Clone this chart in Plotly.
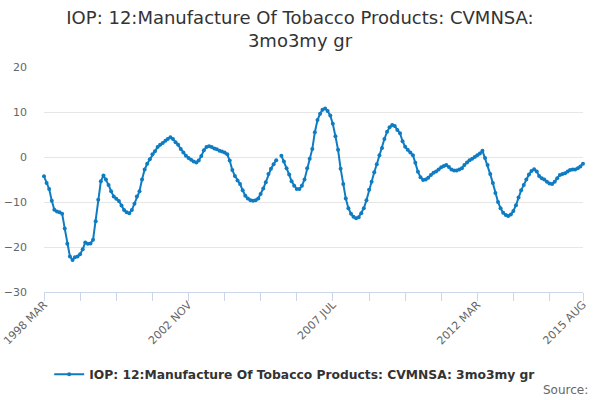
import pandas as pd
import plotly.graph_objects as go

# Monthly series, 1998 MAR .. 2015 AUG (one month missing in 2005)
start_month = "1998-03-01"
growth = [
    -4.3, -5.8, -7.1, -9.7, -11.7, -12.1, -12.3, -12.6, -15.9, -19.3,
    -22.1, -22.9, -22.3, -22.1, -21.6, -20.5, -19.0, -19.3, -19.2, -18.4,
    -14.3, -9.5, -5.4, -4.1, -5.0, -6.2, -7.6, -8.8, -9.3, -9.8,
    -10.8, -11.8, -12.3, -12.5, -11.8, -10.4, -8.8, -7.6, -5.0, -2.8,
    -1.5, -0.5, 0.6, 1.3, 2.2, 2.7, 3.1, 3.6, 4.0, 4.4,
    4.0, 3.3, 2.7, 1.8, 1.0, 0.3, -0.2, -0.6, -1.0, -1.2,
    -0.8, 0.2, 1.5, 2.2, 2.4, 2.2, 1.9, 1.7, 1.4, 1.2,
    1.0, 0.6, -0.8, -2.9, -4.2, -5.2, -6.0, -7.4, -8.6, -9.2,
    -9.6, -9.7, -9.6, -9.2, -8.2, -7.0, -5.6, -3.8, -2.6, -1.6,
    -0.7, None, 0.3, -1.0, -2.5, -3.9, -5.4, -6.4, -7.1, -7.1,
    -6.4, -5.0, -2.5, -0.4, 1.8, 5.5, 8.2, 9.6, 10.5, 10.8,
    10.2, 9.2, 7.4, 4.6, 1.6, -2.6, -6.0, -9.2, -11.4, -12.6,
    -13.3, -13.6, -13.4, -12.5, -11.4, -9.6, -7.3, -5.5, -3.4, -1.6,
    0.4, 2.0, 4.0, 5.6, 6.6, 7.1, 6.9, 6.0, 5.3, 3.5,
    2.3, 1.6, 1.0, 0.4, -1.3, -3.3, -4.5, -5.1, -5.0, -4.6,
    -4.0, -3.5, -3.2, -2.8, -2.3, -2.0, -1.8, -2.2, -2.8, -3.0,
    -3.0, -2.8, -2.5, -1.8, -1.2, -0.7, -0.4, 0.0, 0.4, 0.8,
    1.4, -0.2, -1.8, -3.8, -5.8, -8.0, -10.0, -11.4, -12.4, -12.9,
    -13.1, -12.8, -12.0, -10.7, -9.0, -7.4, -6.2, -5.0, -3.9, -3.1,
    -2.7, -3.2, -4.2, -4.7, -5.0, -5.5, -5.9, -6.0, -5.5, -4.7,
    -4.0, -3.8, -3.6, -3.2, -2.9, -2.8, -2.8, -2.5, -2.1, -1.5,
]
# tick every 14 months, only some of them labelled
tick_index = [0, 14, 28, 42, 56, 70, 84, 98, 112, 126, 140, 154, 168, 182, 196, 209]
tick_labels = {0: "1998 MAR", 56: "2002 NOV", 112: "2007 JUL", 168: "2012 MAR", 209: "2015 AUG"}
y_ticks = [-30, -20, -10, 0, 10, 20]

series_name = "IOP: 12:Manufacture Of Tobacco Products: CVMNSA: 3mo3my gr"

months = pd.date_range(start_month, periods=len(growth), freq="MS")

fig = go.Figure()
fig.add_trace(go.Scatter(
    x=months, y=growth,
    mode="lines+markers",
    name="<b>" + series_name + "</b>",
    line=dict(color="#0f7cc2", width=2),
    marker=dict(color="#0f7cc2", size=4),
    cliponaxis=False,
))

fig.update_layout(
    width=600, height=400,
    margin=dict(l=44, r=17, t=67, b=108),
    paper_bgcolor="white", plot_bgcolor="white",
    font=dict(family="DejaVu Sans", color="#666666", size=11),
    title=dict(
        text="IOP: 12:Manufacture Of Tobacco Products: CVMNSA:<br>3mo3my gr",
        x=0.5, xanchor="center", y=0.94, yanchor="middle",
        font=dict(size=18, color="#333333"),
        automargin=False,
    ),
    showlegend=True,
    legend=dict(
        orientation="h", x=0.466, xanchor="center", y=-0.365, yanchor="middle",
        font=dict(size=12.3, color="#333333"),
        itemwidth=30,
    ),
)

fig.update_xaxes(
    range=[months[0], months[-1]],
    tickvals=[months[i] for i in tick_index],
    ticktext=[tick_labels.get(i, "") for i in tick_index],
    tickangle=-45,
    ticks="outside", ticklen=8, tickcolor="#ccd6eb",
    ticklabelstandoff=-7,
    showline=True, linecolor="#ccd6eb", linewidth=1,
    showgrid=False, zeroline=False,
    tickfont=dict(size=11, color="#666666"),
    automargin=False,
)
fig.update_yaxes(
    range=[-30, 20],
    tickvals=y_ticks,
    showgrid=True, gridcolor="#e6e6e6", gridwidth=1,
    zeroline=False, showline=False,
    ticks="", ticklabelstandoff=16,
    tickfont=dict(size=11, color="#666666"),
    automargin=False,
)

fig.add_annotation(
    text="Source:", xref="paper", yref="paper",
    x=1.013, y=-0.436, xanchor="right", yanchor="middle",
    showarrow=False, font=dict(size=12, color="#666666"),
)

# page body has a default 8px margin, drop it so the figure sits at 0,0
fig.write_html(
    "out.html",
    config={"displayModeBar": False},
    post_script="document.body.style.margin = '0';",
)
